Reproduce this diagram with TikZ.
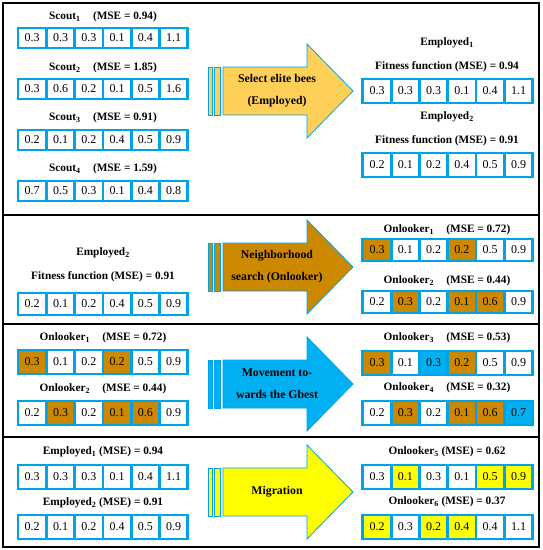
\documentclass[tikz,border=0pt]{standalone}
\usepackage{fontspec}
\setmainfont{Liberation Serif}
\usepackage{xcolor}
\usetikzlibrary{positioning}

\definecolor{cellblue}{RGB}{0,162,232}
\definecolor{beegold}{RGB}{255,208,88}
\definecolor{beebrown}{RGB}{204,137,0}
\definecolor{beesky}{RGB}{0,176,240}
\definecolor{beeyellow}{RGB}{255,255,0}

% one row of six cells: name, x of first cell, y, height, value/fill list
\newcommand{\cellrow}[5]{%
  \foreach \v/\c [count=\i] in {#5}
    \node[cell, fill=\c, minimum height=#4] (#1-\i) at ({#2+(\i-1)*28.3}, #3) {\v};
}
% block arrow with two stripes: name, y, fill, text
\newcommand{\bigarrow}[4]{%
  \draw[arrline, fill=#3] (208,#2-24) rectangle (212,#2+24);
  \draw[arrline, fill=#3] (214,#2-24) rectangle (220,#2+24);
  \draw[arrline, fill=#3] (223,#2-24) -- (307,#2-24) -- (307,#2-47) -- (353,#2)
    -- (307,#2+47) -- (307,#2+24) -- (223,#2+24) -- cycle;
  \node[arrtext] (#1) at (277,#2) {#4};
}

\begin{document}
\begin{tikzpicture}[
  x=1pt, y=-1pt,
  cell/.style={draw=cellblue, line width=2.8pt, minimum width=28.3pt,
               inner sep=0pt, font=\fontsize{12}{12}\selectfont},
  lbl/.style={font=\bfseries\fontsize{11.3}{12}\selectfont, inner sep=1pt},
  arrline/.style={draw=cellblue, line width=0.8pt},
  arrtext/.style={align=center, font=\bfseries\fontsize{11.8}{22}\selectfont},
  frame/.style={line width=2.6pt}
]
  \useasboundingbox (0,0) rectangle (543,550);

  % panel 1
  \node[lbl] (scout1) at (103,17)  {Scout\textsubscript{1}\hspace{1.1em}(MSE = 0.94)};
  \cellrow{sa}{32.2}{38}{20pt}{0.3/white,0.3/white,0.3/white,0.1/white,0.4/white,1.1/white}
  \node[lbl] (scout2) at (103,68)  {Scout\textsubscript{2}\hspace{1.1em}(MSE = 1.85)};
  \cellrow{sb}{32.2}{89}{20pt}{0.3/white,0.6/white,0.2/white,0.1/white,0.5/white,1.6/white}
  \node[lbl] (scout3) at (103,118) {Scout\textsubscript{3}\hspace{1.1em}(MSE = 0.91)};
  \cellrow{sc}{32.2}{140}{20pt}{0.2/white,0.1/white,0.2/white,0.4/white,0.5/white,0.9/white}
  \node[lbl] (scout4) at (103,169) {Scout\textsubscript{4}\hspace{1.1em}(MSE = 1.59)};
  \cellrow{sd}{32.2}{191}{20pt}{0.7/white,0.5/white,0.3/white,0.1/white,0.4/white,0.8/white}

  \bigarrow{select}{91}{beegold}{Select elite bees\\(Employed)}

  \node[lbl] (emp1) at (447,43)  {Employed\textsubscript{1}};
  \node[lbl] (fit1) at (447,67)  {Fitness function (MSE) = 0.94};
  \cellrow{ea}{377}{91}{24pt}{0.3/white,0.3/white,0.3/white,0.1/white,0.4/white,1.1/white}
  \node[lbl] (emp2) at (447,117) {Employed\textsubscript{2}};
  \node[lbl] (fit2) at (447,141) {Fitness function (MSE) = 0.91};
  \cellrow{eb}{377}{165}{24pt}{0.2/white,0.1/white,0.2/white,0.4/white,0.5/white,0.9/white}

  % panel 2
  \node[lbl] (emp2b) at (103,253) {Employed\textsubscript{2}};
  \node[lbl] (fit2b) at (103,277) {Fitness function (MSE) = 0.91};
  \cellrow{ec}{32.2}{304}{22pt}{0.2/white,0.1/white,0.2/white,0.4/white,0.5/white,0.9/white}

  \bigarrow{neigh}{267}{beebrown}{Neighborhood\\search (Onlooker)}

  \node[lbl] (onl1) at (447,230) {Onlooker\textsubscript{1}\hspace{1.1em}(MSE = 0.72)};
  \cellrow{oa}{377}{250}{22pt}{0.3/beebrown,0.1/white,0.2/white,0.2/beebrown,0.5/white,0.9/white}
  \node[lbl] (onl2) at (447,281) {Onlooker\textsubscript{2}\hspace{1.1em}(MSE = 0.44)};
  \cellrow{ob}{377}{302}{22pt}{0.2/white,0.3/beebrown,0.2/white,0.1/beebrown,0.6/beebrown,0.9/white}

  % panel 3
  \node[lbl] (onl1b) at (103,338) {Onlooker\textsubscript{1}\hspace{1.1em}(MSE = 0.72)};
  \cellrow{oc}{32.2}{362}{24pt}{0.3/beebrown,0.1/white,0.2/white,0.2/beebrown,0.5/white,0.9/white}
  \node[lbl] (onl2b) at (103,389) {Onlooker\textsubscript{2}\hspace{1.1em}(MSE = 0.44)};
  \cellrow{od}{32.2}{413}{24pt}{0.2/white,0.3/beebrown,0.2/white,0.1/beebrown,0.6/beebrown,0.9/white}

  \bigarrow{move}{384}{beesky}{Movement to-\\wards the Gbest}

  \node[lbl] (onl3) at (447,338) {Onlooker\textsubscript{3}\hspace{1.1em}(MSE = 0.53)};
  \cellrow{oe}{377}{363}{24pt}{0.3/beebrown,0.1/white,0.3/beesky,0.2/beebrown,0.5/white,0.9/white}
  \node[lbl] (onl4) at (447,388) {Onlooker\textsubscript{4}\hspace{1.1em}(MSE = 0.32)};
  \cellrow{of}{377}{413}{24pt}{0.2/white,0.3/beebrown,0.2/white,0.1/beebrown,0.6/beebrown,0.7/beesky}

  % panel 4
  \node[lbl] (emp1c) at (103,452) {Employed\textsubscript{1} (MSE) = 0.94};
  \cellrow{ed}{32.2}{477}{24pt}{0.3/white,0.3/white,0.3/white,0.1/white,0.4/white,1.1/white}
  \node[lbl] (emp2c) at (103,503) {Employed\textsubscript{2} (MSE) = 0.91};
  \cellrow{ee}{32.2}{527}{24pt}{0.2/white,0.1/white,0.2/white,0.4/white,0.5/white,0.9/white}

  \bigarrow{migr}{492}{beeyellow}{Migration}

  \node[lbl] (onl5) at (447,452) {Onlooker\textsubscript{5} (MSE) = 0.62};
  \cellrow{og}{377}{477}{24pt}{0.3/white,0.1/beeyellow,0.3/white,0.1/white,0.5/beeyellow,0.9/beeyellow}
  \node[lbl] (onl6) at (447,502) {Onlooker\textsubscript{6} (MSE) = 0.37};
  \cellrow{oh}{377}{527}{24pt}{0.2/beeyellow,0.3/white,0.2/beeyellow,0.4/beeyellow,0.4/white,1.1/white}

  % frame and dividers
  \draw[frame] (3,3) rectangle (539,547);
  \draw[frame] (3,215) -- (539,215);
  \draw[frame] (3,324) -- (539,324);
  \draw[frame] (3,437) -- (539,437);
\end{tikzpicture}
\end{document}
